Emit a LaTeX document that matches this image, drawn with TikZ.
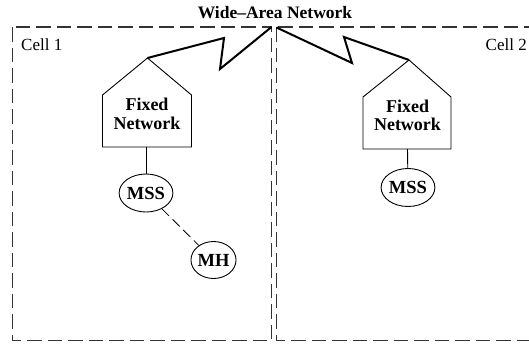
\documentclass[tikz,border=0pt]{standalone}
\usepackage{fontspec}
\setmainfont{Liberation Serif}
\usetikzlibrary{shapes.geometric}
\begin{document}
\begin{tikzpicture}[x=1pt,y=-1pt,
  cellbox/.style={draw=black!80,line width=1.2pt,dash pattern=on 14.5pt off 6pt},
  radiolink/.style={draw,line width=2pt,line join=miter},
  house/.style={draw,line width=0.9pt,line join=miter},
  station/.style={ellipse,draw,line width=0.9pt,inner sep=0pt,minimum width=50pt,minimum height=38pt,font=\bfseries\fontsize{18.5}{20}\selectfont},
  host/.style={ellipse,draw,line width=0.9pt,inner sep=0pt,minimum width=39pt,minimum height=37pt,font=\bfseries\fontsize{18.5}{20}\selectfont},
  netlabel/.style={align=center,inner sep=0pt,font=\bfseries\fontsize{18}{18.5}\selectfont},
  celllabel/.style={inner sep=0pt,font=\fontsize{17}{20}\selectfont}]
\useasboundingbox (0,0) rectangle (529,343);

% the two cells
\draw[cellbox] (12.5,27) rectangle (271.5,340.5);
\draw[cellbox] (276.5,27) rectangle (545,340.5);
\node[celllabel,anchor=west] (c1) at (21,45) {Cell 1};
\node[celllabel,anchor=east] (c2) at (527,45) {Cell 2};

\node[inner sep=0pt,font=\bfseries\fontsize{17.5}{20}\selectfont] (wan) at (275,13) {Wide--Area Network};

% fixed networks drawn as houses
\coordinate (hA) at (147.5,58);
\coordinate (hB) at (409,60);
\draw[house] (hA) -- (191.5,95) -- (191.5,147) -- (102.5,147) -- (102.5,95) -- cycle;
\draw[house] (hB) -- (451,97) -- (451,149) -- (363,149) -- (363,97) -- cycle;
\node[netlabel] (fA) at (147,114) {Fixed\\Network};
\node[netlabel] (fB) at (407.5,115.5) {Fixed\\Network};
\coordinate (bA) at (146,147);
\coordinate (bB) at (407.5,149);

% wide-area radio links
\coordinate (wL) at (271.5,27);
\coordinate (wR) at (276.5,27.5);
\draw[radiolink] (wL) -- (220,69) -- (224,38) -- (hA);
\draw[radiolink] (wR) -- (352,63) -- (344,37) -- (hB);

% support stations and the mobile host
\node[station] (mssA) at (146,193) {MSS};
\node[station] (mssB) at (408,187.5) {MSS};
\node[host] (mh) at (213.5,260) {MH};

\draw[line width=0.9pt] (bA) -- (mssA);
\draw[line width=0.9pt] (bB) -- (mssB);
\draw[line width=0.8pt,dash pattern=on 10pt off 5pt] (mssA) -- (mh);
\end{tikzpicture}
\end{document}
